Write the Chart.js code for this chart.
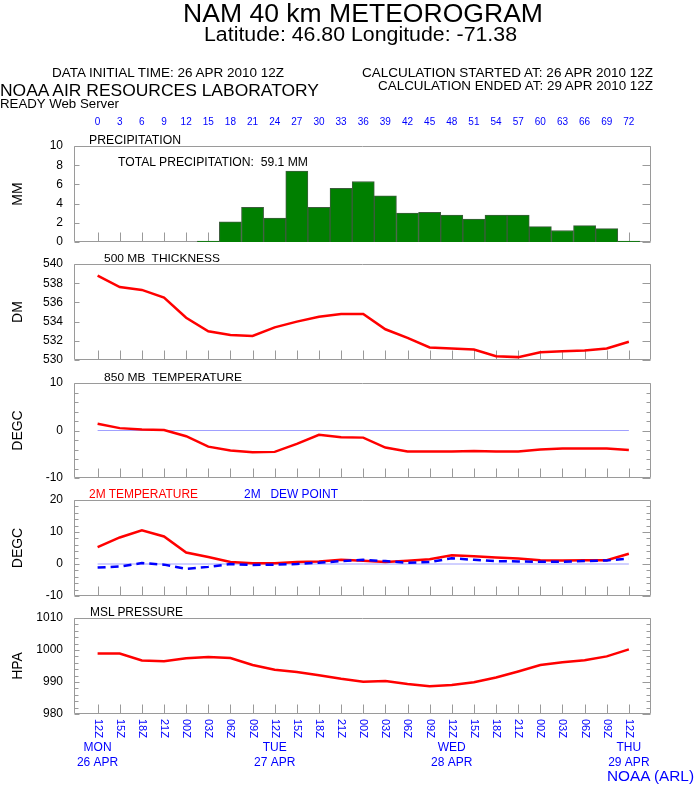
<!DOCTYPE html>
<html><head><meta charset="utf-8">
<script src="https://cdn.jsdelivr.net/npm/chart.js@4.4.0/dist/chart.umd.min.js"></script>
<style>
html,body{margin:0;padding:0;background:#fff;}
#wrap{position:relative;width:694px;height:787px;overflow:hidden;font-family:"Liberation Sans",Arial,Helvetica,sans-serif;color:#000;}
.t{position:absolute;white-space:pre;line-height:1;transform-origin:0 0;}
canvas{position:absolute;left:0;top:0;}
</style></head><body><div id="wrap">
<canvas id="c1" width="694" height="787"></canvas>
<canvas id="c2" width="694" height="787"></canvas>
<canvas id="c3" width="694" height="787"></canvas>
<canvas id="c4" width="694" height="787"></canvas>
<canvas id="c5" width="694" height="787"></canvas>
<div class="t" style="left:183px;top:0px;font-size:26px" data-w="360">NAM 40 km METEOROGRAM</div>
<div class="t" style="left:204px;top:24px;font-size:20px" data-w="313">Latitude: 46.80 Longitude: -71.38</div>
<div class="t" style="left:52px;top:65.6px;font-size:13px" data-w="232">DATA INITIAL TIME: 26 APR 2010 12Z</div>
<div class="t" style="left:362px;top:65.6px;font-size:13px" data-w="291">CALCULATION STARTED AT: 26 APR 2010 12Z</div>
<div class="t" style="left:378px;top:78.6px;font-size:13px" data-w="275">CALCULATION ENDED AT: 29 APR 2010 12Z</div>
<div class="t" style="left:0px;top:82.2px;font-size:17px" data-w="319">NOAA AIR RESOURCES LABORATORY</div>
<div class="t" style="left:0px;top:96.6px;font-size:13px" data-w="119">READY Web Server</div>
<div class="t" style="left:89px;top:134.1px;font-size:12px" data-w="92">PRECIPITATION</div>
<div class="t" style="left:118px;top:156.1px;font-size:12px" data-w="190">TOTAL PRECIPITATION:  59.1 MM</div>
<div class="t" style="left:104px;top:252.6px;font-size:11px" data-w="116">500 MB  THICKNESS</div>
<div class="t" style="left:104px;top:371.6px;font-size:11px" data-w="138">850 MB  TEMPERATURE</div>
<div class="t" style="left:89px;top:488.1px;font-size:12px;color:#ff0000" data-w="109">2M TEMPERATURE</div>
<div class="t" style="left:244px;top:488.1px;font-size:12px;color:#0000ff" data-w="94">2M   DEW POINT</div>
<div class="t" style="left:90px;top:606.1px;font-size:12px" data-w="93">MSL PRESSURE</div>
<div class="t" style="left:607px;top:767.7px;font-size:15px;color:#0000ff" data-w="87">NOAA (ARL)</div>
</div>
<script>
// ---------------- DATA ----------------
const hours = [0,3,6,9,12,15,18,21,24,27,30,33,36,39,42,45,48,51,54,57,60,63,66,69,72];
const hourTickLabels = ['0','3','6','9','12','15','18','21','24','27','30','33','36','39','42','45','48','51','54','57','60','63','66','69','72'];
const timeLabels = ['12Z','15Z','18Z','21Z','00Z','03Z','06Z','09Z','12Z','15Z','18Z','21Z','00Z','03Z','06Z','09Z','12Z','15Z','18Z','21Z','00Z','03Z','06Z','09Z','12Z'];
const dayHours = [0,24,48,72];
const dayNames = ['MON','TUE','WED','THU'];
const dayDates = ['26 APR','27 APR','28 APR','29 APR'];

const precipMM = [0,0,0,0,0,0.1,2.1,3.6,2.5,7.4,3.6,5.6,6.3,4.8,3.0,3.1,2.8,2.4,2.8,2.8,1.6,1.2,1.7,1.4,0.1];
const thicknessDM = [538.8,537.6,537.3,536.5,534.4,533.0,532.6,532.5,533.4,534.0,534.5,534.8,534.8,533.2,532.3,531.3,531.2,531.1,530.4,530.3,530.8,530.9,531.0,531.2,531.9];
const temp850 = [1.4,0.5,0.2,0.1,-1.2,-3.4,-4.2,-4.6,-4.5,-2.8,-0.9,-1.4,-1.5,-3.6,-4.4,-4.4,-4.4,-4.3,-4.4,-4.4,-4.0,-3.8,-3.8,-3.8,-4.1];
const temp2m = [5.3,8.3,10.5,8.6,3.6,2.2,0.6,0.2,0.2,0.6,0.8,1.3,1.0,0.6,1.0,1.5,2.7,2.4,2.0,1.7,1.2,1.1,1.2,1.2,3.2];
const dew2m = [-1.1,-0.8,0.3,-0.2,-1.5,-0.9,0.0,-0.3,-0.2,0.0,0.4,0.9,1.3,0.9,0.4,0.6,1.8,1.3,0.9,0.8,0.7,0.7,0.9,1.1,1.7];
const mslpHPA = [998.9,998.9,996.7,996.5,997.4,997.8,997.5,995.3,993.8,993.1,992.1,991.0,990.1,990.3,989.4,988.7,989.1,989.9,991.4,993.3,995.3,996.2,996.8,998.0,1000.2];
const refLineHours = [0,72];
const refLineValues = [0,0];

const precipTicks = [0,2,4,6,8,10], precipLabeled = [0,2,4,6,8,10];
const thickTicks = [530,532,534,536,538,540], thickLabeled = [530,532,534,536,538,540];
const t850Ticks = [-10,-8,-6,-4,-2,0,2,4,6,8,10], t850Labeled = [-10,0,10];
const t2mTicks = [-10,-8,-6,-4,-2,0,2,4,6,8,10,12,14,16,18,20], t2mLabeled = [-10,0,10,20];
const mslpTicks = [980,982,984,986,988,990,992,994,996,998,1000,1002,1004,1006,1008,1010], mslpLabeled = [980,990,1000,1010];

// ---------------- LAYOUT ----------------
const W = 694, H = 787, PLOT_LEFT = 74, PLOT_RIGHT = 651;
const X_MIN = -3.2, X_MAX = 75;
const FONT = '"Liberation Sans", Arial, Helvetica, sans-serif';
Chart.defaults.font.family = FONT;
Chart.defaults.color = '#000';

const xy = (xs, ys) => xs.map((x, i) => ({x, y: ys[i]}));

function frameTicks(yTicks, yLabeled) {
  return {
    id: 'frameTicks',
    beforeDatasetsDraw(chart) {
      const {ctx, chartArea: a, scales: {x, y}} = chart;
      ctx.save();
      ctx.strokeStyle = '#9a9a9a';
      ctx.lineWidth = 1;
      ctx.beginPath();
      const L = Math.round(a.left) + 0.5, R = Math.round(a.right) - 0.5;
      const T = Math.round(a.top) + 0.5, B = Math.round(a.bottom) - 0.5;
      ctx.rect(L, T, R - L, B - T);
      yTicks.forEach(v => {
        const py = Math.round(y.getPixelForValue(v)) + 0.5;
        const lab = yLabeled.includes(v);
        const ll = lab ? 5 : 4, rl = lab ? 8 : 4;
        ctx.moveTo(L, py); ctx.lineTo(L + ll, py);
        ctx.moveTo(R, py); ctx.lineTo(R - rl, py);
      });
      hours.forEach(h => {
        const px = Math.round(x.getPixelForValue(h)) + 0.5;
        ctx.moveTo(px, B); ctx.lineTo(px, B - 9);
      });
      ctx.stroke();
      ctx.restore();
    }
  };
}

function yAxis(min, max, ticks, labeled, title) {
  return {
    type: 'linear', min, max,
    afterBuildTicks: s => { s.ticks = ticks.map(v => ({value: v})); },
    afterFit: s => { s.width = PLOT_LEFT; },
    grid: {display: false, drawTicks: false},
    border: {display: false},
    ticks: {autoSkip: false, padding: 11, color: '#000', font: {size: 12},
      callback: v => labeled.includes(v) ? String(v) : ''},
    title: {display: true, text: title, color: '#000', font: {size: 14}, padding: {top: 10, bottom: 0}}
  };
}

function xHidden() {
  return {type: 'linear', min: X_MIN, max: X_MAX, offset: false, display: false};
}

function baseOptions(top, bottom, scales) {
  return {
    responsive: false, animation: false, devicePixelRatio: 1, events: [],
    layout: {padding: {left: 0, right: W - PLOT_RIGHT, top, bottom: H - bottom}},
    plugins: {legend: {display: false}, tooltip: {enabled: false}},
    scales
  };
}

function lineDs(xs, ys, color, width, extra) {
  return Object.assign({data: xy(xs, ys), borderColor: color, borderWidth: width,
    pointRadius: 0, tension: 0, fill: false}, extra || {});
}

// ---- Panel 1: precipitation ----
new Chart(document.getElementById('c1'), {
  type: 'bar',
  data: {datasets: [{data: xy(hours, precipMM), backgroundColor: '#007f00',
    borderColor: '#3d5c3d', borderWidth: 1, barPercentage: 1, categoryPercentage: 1}]},
  options: baseOptions(146 - 30, 242, {
    x: {type: 'linear', position: 'top', min: X_MIN, max: X_MAX, offset: false,
      afterBuildTicks: s => { s.ticks = hours.map(v => ({value: v})); },
      afterFit: s => { s.height = 30; },
      grid: {display: false, drawTicks: false}, border: {display: false},
      ticks: {autoSkip: false, maxRotation: 0, minRotation: 0, padding: 18, color: '#0000ff',
        font: {size: 10}, callback: (v, i) => hourTickLabels[i]}},
    y: yAxis(0, 10, precipTicks, precipLabeled, 'MM')
  }),
  plugins: [frameTicks(precipTicks, precipLabeled)]
});

// ---- Panel 2: 500 mb thickness ----
new Chart(document.getElementById('c2'), {
  type: 'line',
  data: {datasets: [lineDs(hours, thicknessDM, '#ff0000', 2.5)]},
  options: baseOptions(264, 360, {x: xHidden(), y: yAxis(530, 540, thickTicks, thickLabeled, 'DM')}),
  plugins: [frameTicks(thickTicks, thickLabeled)]
});

// ---- Panel 3: 850 mb temperature ----
new Chart(document.getElementById('c3'), {
  type: 'line',
  data: {datasets: [
    lineDs(hours, temp850, '#ff0000', 2.5, {order: 1}),
    lineDs(refLineHours, refLineValues, '#a0a0ff', 1, {order: 2})
  ]},
  options: baseOptions(383, 478, {x: xHidden(), y: yAxis(-10, 10, t850Ticks, t850Labeled, 'DEGC')}),
  plugins: [frameTicks(t850Ticks, t850Labeled)]
});

// ---- Panel 4: 2 m temperature / dew point ----
new Chart(document.getElementById('c4'), {
  type: 'line',
  data: {datasets: [
    lineDs(hours, temp2m, '#ff0000', 2.5, {order: 2}),
    lineDs(hours, dew2m, '#0000ff', 2.5, {order: 1, borderDash: [8, 5]}),
    lineDs(refLineHours, refLineValues, '#a0a0ff', 1, {order: 3})
  ]},
  options: baseOptions(500, 596, {x: xHidden(), y: yAxis(-10, 20, t2mTicks, t2mLabeled, 'DEGC')}),
  plugins: [frameTicks(t2mTicks, t2mLabeled)]
});

// ---- Panel 5: MSL pressure + time axis ----
const timeAxisLabels = {
  id: 'timeAxisLabels',
  afterDraw(chart) {
    const {ctx, scales: {x}} = chart;
    ctx.save();
    ctx.fillStyle = '#0000ff';
    ctx.font = '11px ' + FONT;
    hours.forEach((h, i) => {
      const px = x.getPixelForValue(h);
      ctx.save();
      ctx.translate(px, 719);
      ctx.rotate(Math.PI / 2);
      ctx.textAlign = 'left';
      ctx.textBaseline = 'middle';
      ctx.fillText(timeLabels[i], 0, 0);
      ctx.restore();
    });
    ctx.font = '12px ' + FONT;
    ctx.textAlign = 'center';
    ctx.textBaseline = 'middle';
    dayHours.forEach((h, i) => {
      const px = x.getPixelForValue(h);
      ctx.fillText(dayNames[i], px, 748);
      ctx.fillText(dayDates[i], px, 763);
    });
    ctx.restore();
  }
};
new Chart(document.getElementById('c5'), {
  type: 'line',
  data: {datasets: [lineDs(hours, mslpHPA, '#ff0000', 2.5)]},
  options: baseOptions(618, 714, {x: xHidden(), y: yAxis(980, 1010, mslpTicks, mslpLabeled, 'HPA')}),
  plugins: [frameTicks(mslpTicks, mslpLabeled), timeAxisLabels]
});

// ---- fit header texts to their measured widths ----
function fitTexts() {
  document.querySelectorAll('[data-w]').forEach(el => {
    el.style.transform = 'none';
    const w = el.getBoundingClientRect().width;
    const t = +el.dataset.w;
    if (w > 0) el.style.transform = 'scaleX(' + (t / w) + ')';
  });
}
fitTexts();
if (document.fonts && document.fonts.ready) document.fonts.ready.then(fitTexts);
</script>
</body></html>
